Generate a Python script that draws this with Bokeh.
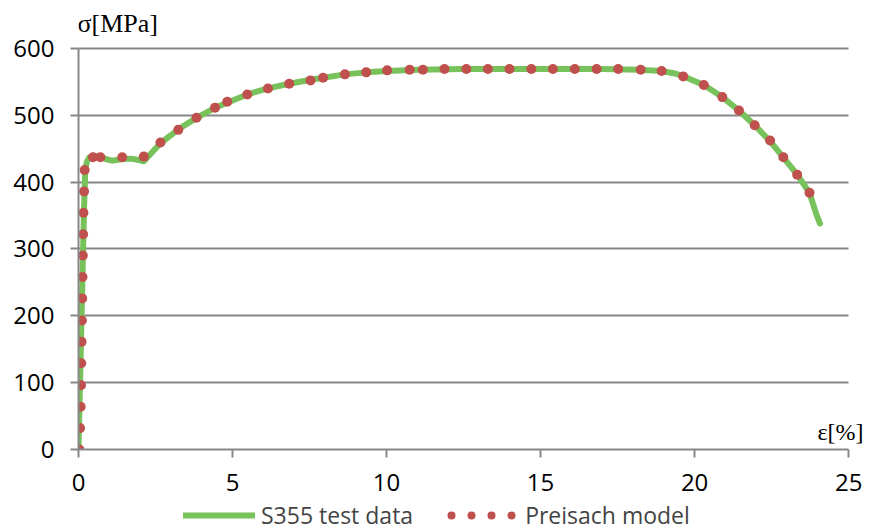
from bokeh.plotting import figure
from bokeh.layouts import column
from bokeh.models import Range1d, Legend, LegendItem, Label, FixedTicker
from bokeh.embed import file_html
from bokeh.resources import INLINE

# S355 test data (strain %, stress MPa)
test_strain = [0.00, 0.03, 0.08, 0.13, 0.18, 0.22, 0.27, 0.35, 0.50, 0.70, 0.90, 1.10, 1.40, 1.70,
               1.95, 2.12, 2.30, 2.66, 3.00, 3.24, 3.83, 4.43, 5.00, 5.48, 6.15, 6.84, 7.53, 8.65,
               9.34, 10.02, 11.00, 12.50, 14.00, 15.50, 17.00, 18.20, 18.93, 19.40, 19.80, 20.30,
               20.90, 21.44, 21.95, 22.45, 22.88, 23.33, 23.73, 23.95, 24.07]
test_stress = [0, 60, 160, 260, 360, 418, 430, 437, 439, 438, 434, 432, 434, 435,
               433, 431, 440, 458, 470, 479, 496, 511, 522, 531, 540, 547, 553, 561,
               564, 566, 568, 569, 569, 569, 569, 568, 566, 562, 555, 545,
               527, 507, 485, 461, 437, 411, 384, 352, 338]

# Preisach model points (strain %, stress MPa)
model_strain = [0.03, 0.05, 0.07, 0.08, 0.09, 0.10, 0.11, 0.12, 0.13, 0.14, 0.15, 0.16, 0.18, 0.20,
                0.47, 0.71, 1.42, 2.12, 2.66, 3.24, 3.83, 4.43, 4.83, 5.48, 6.15, 6.84, 7.53, 7.94,
                8.65, 9.34, 10.02, 10.75, 11.18, 11.88, 12.59, 13.29, 13.99, 14.70, 15.40, 16.11,
                16.82, 17.52, 18.25, 18.93, 19.63, 20.30, 20.90, 21.44, 21.95, 22.45, 22.88, 23.33,
                23.73]
model_stress = [0, 32, 64, 96, 129, 161, 193, 226, 258, 290, 322, 354, 386, 418,
                437, 437, 437, 438, 459, 478, 496, 511, 520, 531, 540, 547, 552, 556,
                561, 564, 567, 568, 568, 569, 569, 569, 569, 569, 569, 569,
                569, 569, 568, 566, 558, 545, 527, 507, 485, 462, 437, 411,
                384]

x_ticks = [0, 5, 10, 15, 20, 25]
y_ticks = [0, 100, 200, 300, 400, 500, 600]

GREEN = "#77C25A"
RED = "#C0504D"
GRAY = "#878787"

# frame extends beyond the axes' data extent so the axis titles fit inside it
p = figure(width=870, height=500, output_backend="svg", toolbar_location=None,
           x_range=Range1d(0, 25.58), y_range=Range1d(0, 664),
           min_border_left=78, min_border_right=4, min_border_top=5, min_border_bottom=51)
p.outline_line_color = None
p.background_fill_color = "white"
p.border_fill_color = "white"

p.xgrid.visible = False
p.ygrid.grid_line_color = GRAY
p.ygrid.grid_line_width = 2
p.ygrid.cross_bounds = (0, 25)

p.xaxis.ticker = FixedTicker(ticks=x_ticks)
p.yaxis.ticker = FixedTicker(ticks=y_ticks)
p.xaxis.bounds = (0, 25)
p.yaxis.bounds = (0, 600)
for ax in (p.xaxis[0], p.yaxis[0]):
    ax.axis_line_color = GRAY
    ax.axis_line_width = 2
    ax.major_tick_line_color = GRAY
    ax.major_tick_line_width = 2
    ax.major_tick_in = 0
    ax.major_tick_out = 8
    ax.minor_tick_line_color = None
    ax.major_label_text_font = "Open Sans"
    ax.major_label_text_font_size = "24px"
    ax.major_label_text_color = "black"
p.yaxis.major_label_standoff = 16
p.xaxis.major_label_standoff = 16

p.line(test_strain, test_stress, line_color=GREEN, line_width=6, line_join="round", line_cap="round")
p.scatter(model_strain, model_stress, size=10, fill_color=RED, line_color=RED, line_width=0)

p.add_layout(Label(x=-1, y=426, x_units="screen", y_units="screen", text="σ[MPa]",
                   text_font="Liberation Serif", text_font_size="26px", text_baseline="middle",
                   text_color="black"))
p.add_layout(Label(x=739, y=18, x_units="screen", y_units="screen", text="ε[%]",
                   text_font="Liberation Serif", text_font_size="24px", text_baseline="middle",
                   text_color="black"))

# legend strip below the chart (its frame is aligned with the chart's frame)
q = figure(width=870, height=31, output_backend="svg", toolbar_location=None,
           x_range=Range1d(0, 1), y_range=Range1d(0, 1), min_border=0)
q.axis.visible = False
q.grid.visible = False
q.outline_line_color = None
q.border_fill_color = "white"
# legend-only renderers, kept outside the visible range
leg_line = q.line([-5, -4], [-5, -4], line_color=GREEN, line_width=6, line_cap="round")
leg_dots = q.line([-5, -4], [-5, -4], line_color=RED, line_width=8, line_dash="0 20",
                  line_dash_offset=16, line_cap="round")

leg = Legend(items=[LegendItem(label="S355 test data", renderers=[leg_line]),
                    LegendItem(label="Preisach model", renderers=[leg_dots])],
             location=(105, 0), orientation="horizontal", glyph_width=72, glyph_height=20,
             label_standoff=6, spacing=34, padding=0, margin=0, border_line_color=None,
             background_fill_alpha=0, label_text_font="Open Sans", label_text_font_size="23px",
             label_height=20)
q.add_layout(leg)

layout = column(p, q, spacing=0)
open("out.html", "w").write(file_html(layout, INLINE))
